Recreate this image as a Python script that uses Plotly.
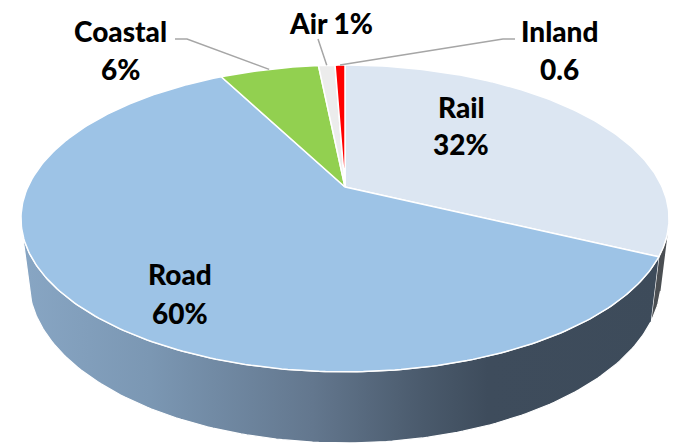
import numpy as np
import plotly.graph_objects as go

# freight modal share (%), read clockwise from 12 o'clock
modes = ["Rail", "Road", "Coastal", "Air", "Inland"]
shares = [32, 60, 6, 1, 0.6]
label_lines = [["Rail", "32%"], ["Road", "60%"], ["Coastal", "6%"], ["Air 1%"], ["Inland", "0.6"]]

top_colors = ["#dce6f2", "#9dc3e6", "#92d050", "#ececec", "#ff0000"]
side_scales = {
    "Rail": [[0, "#63676b"], [1, "#4a4e52"]],
    "Road": [[0, "#88a6c4"], [0.2, "#7b97b3"], [0.45, "#63778e"],
             [0.62, "#4a5a6c"], [0.72, "#3e4c5c"], [1, "#3d4b5a"]],
}

# label placement (pixels): centre x, centre y of each text line
label_pos = {
    "Rail": (461, [107, 144]),
    "Road": (180, [274, 313]),
    "Coastal": (120, [31, 69]),
    "Air": (331, [23]),
    "Inland": (559, [31, 69]),
}
# leader line anchors next to the outside labels
leader_from = {
    "Coastal": [(175, 39), (187, 39)],
    "Air": [(318, 39)],
    "Inland": [(515, 39), (503, 39)],
}

# simple pinhole camera looking down on a unit-radius disc
ELEV = np.radians(27.6)
DIST = 4.32
FOCAL = 1370
CX, CY = 345, 187
THICK = 0.2227


def project(theta, z=0.0, r=1.0):
    X = r * np.sin(theta)
    Y = r * np.cos(theta)
    c, s = np.cos(ELEV), np.sin(ELEV)
    depth = c * Y + DIST - s * z
    return CX + FOCAL * X / depth, CY - FOCAL * (s * Y + c * z) / depth


def arc(t0, t1, z=0.0):
    n = max(4, int(abs(t1 - t0) / (2 * np.pi) * 400))
    return project(np.linspace(t0, t1, n), z)


# slice angles from the shares
total = sum(shares)
bounds = np.concatenate([[0], np.cumsum(shares)]) / total * 2 * np.pi
starts, ends = bounds[:-1], bounds[1:]

# find where the side wall turns away (silhouette generators)
tt = np.linspace(0, 2 * np.pi, 20001)
tx, ty = project(tt)
bx, by = project(tt, -THICK)
dx, dy = np.gradient(tx), np.gradient(ty)
cross = dx * (by - ty) - dy * (bx - tx)
roots = tt[np.where(np.diff(np.sign(cross)) != 0)[0]]
sil_right = roots[roots < np.pi][0]
sil_left = roots[roots > np.pi][0]

fig = go.Figure()

# visible side walls
for i, m in enumerate(modes):
    a, b = max(starts[i], sil_right), min(ends[i], sil_left)
    if b <= a:
        continue
    x1, y1 = arc(a, b)
    x2, y2 = arc(b, a, -THICK)
    fig.add_trace(go.Scatter(
        x=np.concatenate([x1, x2]), y=np.concatenate([y1, y2]),
        mode="lines", fill="toself",
        fillgradient=dict(type="horizontal", colorscale=side_scales[m], start=20, stop=670),
        line=dict(color="white", width=1.2),
        hoverinfo="skip", showlegend=False,
    ))

# top faces
for i, m in enumerate(modes):
    ax, ay = arc(starts[i], ends[i])
    fig.add_trace(go.Scatter(
        x=np.concatenate([[CX], ax, [CX]]), y=np.concatenate([[CY], ay, [CY]]),
        mode="lines", fill="toself", fillcolor=top_colors[i],
        line=dict(color="white", width=1.5),
        name=m, hoverinfo="name", showlegend=False,
    ))

# leader lines to outside labels
for i, m in enumerate(modes):
    if m not in leader_from:
        continue
    ex, ey = project((starts[i] + ends[i]) / 2)
    pts = leader_from[m] + [(ex, ey)]
    fig.add_trace(go.Scatter(
        x=[p[0] for p in pts], y=[p[1] for p in pts], mode="lines",
        line=dict(color="#a6a6a6", width=1.5),
        hoverinfo="skip", showlegend=False,
    ))

for m, lines in zip(modes, label_lines):
    x, ys = label_pos[m]
    for txt, y in zip(lines, ys):
        fig.add_annotation(
            x=x, y=y, text=txt, showarrow=False,
            xanchor="center", yanchor="middle",
            font=dict(family="Lato", size=28, color="black", weight=900),
        )

fig.update_xaxes(range=[0, 676], visible=False)
fig.update_yaxes(range=[446, 0], visible=False)
fig.update_layout(
    width=676, height=446,
    margin=dict(l=0, r=0, t=0, b=0),
    paper_bgcolor="white", plot_bgcolor="white",
)

# drop the default page margin so the chart sits at the window's corner
fig.write_html("out.html", config={"displayModeBar": False},
               post_script="document.body.style.margin='0';")
